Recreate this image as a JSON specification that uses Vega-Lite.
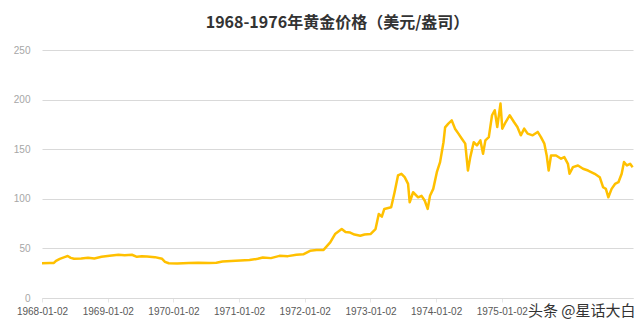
{
  "$schema": "https://vega.github.io/schema/vega-lite/v6.json",
  "width": 640,
  "height": 329,
  "autosize": {"type": "fit", "contains": "padding"},
  "padding": {"left": 13, "top": 15, "right": 6, "bottom": 11},
  "background": "white",
  "title": {
    "text": "1968-1976年黄金价格（美元/盎司）",
    "font": "Noto Sans CJK SC",
    "fontSize": 16,
    "fontWeight": "bold",
    "color": "#333333",
    "anchor": "middle",
    "offset": 14
  },
  "data": {
    "values": [
      {"date": "1968-01-02", "price": 35.0},
      {"date": "1968-02-15", "price": 35.2},
      {"date": "1968-03-08", "price": 35.3},
      {"date": "1968-03-20", "price": 37.5},
      {"date": "1968-04-10", "price": 39.5},
      {"date": "1968-05-10", "price": 41.5},
      {"date": "1968-05-24", "price": 42.3},
      {"date": "1968-06-10", "price": 40.5},
      {"date": "1968-06-28", "price": 39.5},
      {"date": "1968-08-07", "price": 39.8},
      {"date": "1968-09-14", "price": 40.5},
      {"date": "1968-10-19", "price": 39.8},
      {"date": "1968-11-28", "price": 41.5},
      {"date": "1969-01-12", "price": 42.5},
      {"date": "1969-03-02", "price": 43.5},
      {"date": "1969-04-06", "price": 43.2},
      {"date": "1969-05-16", "price": 43.6},
      {"date": "1969-06-13", "price": 41.5},
      {"date": "1969-07-10", "price": 42.0},
      {"date": "1969-08-08", "price": 41.8},
      {"date": "1969-09-21", "price": 41.2},
      {"date": "1969-10-31", "price": 39.5},
      {"date": "1969-11-16", "price": 36.5},
      {"date": "1969-12-07", "price": 35.0},
      {"date": "1970-01-23", "price": 34.8},
      {"date": "1970-03-29", "price": 35.2},
      {"date": "1970-05-20", "price": 35.5},
      {"date": "1970-07-19", "price": 35.3},
      {"date": "1970-08-29", "price": 35.6},
      {"date": "1970-10-02", "price": 36.8},
      {"date": "1970-12-14", "price": 37.5},
      {"date": "1971-03-01", "price": 38.2},
      {"date": "1971-04-16", "price": 39.5},
      {"date": "1971-05-14", "price": 40.8},
      {"date": "1971-06-28", "price": 40.2},
      {"date": "1971-08-15", "price": 42.5},
      {"date": "1971-10-01", "price": 42.2},
      {"date": "1971-11-17", "price": 43.5},
      {"date": "1971-12-25", "price": 44.0},
      {"date": "1972-02-01", "price": 47.6},
      {"date": "1972-03-08", "price": 48.3},
      {"date": "1972-04-16", "price": 48.5},
      {"date": "1972-05-23", "price": 56.0},
      {"date": "1972-06-19", "price": 64.5},
      {"date": "1972-07-26", "price": 69.5},
      {"date": "1972-08-16", "price": 66.5},
      {"date": "1972-09-11", "price": 66.0},
      {"date": "1972-10-05", "price": 64.0},
      {"date": "1972-11-06", "price": 62.8},
      {"date": "1972-11-30", "price": 64.0},
      {"date": "1973-01-02", "price": 64.5},
      {"date": "1973-01-30", "price": 69.5},
      {"date": "1973-02-17", "price": 84.7},
      {"date": "1973-03-06", "price": 82.0},
      {"date": "1973-03-20", "price": 89.8},
      {"date": "1973-04-27", "price": 91.4},
      {"date": "1973-05-16", "price": 106.6},
      {"date": "1973-06-04", "price": 123.5},
      {"date": "1973-06-23", "price": 125.2},
      {"date": "1973-07-11", "price": 121.8},
      {"date": "1973-07-30", "price": 115.0},
      {"date": "1973-08-08", "price": 96.5},
      {"date": "1973-08-27", "price": 106.6},
      {"date": "1973-09-24", "price": 101.5},
      {"date": "1973-10-13", "price": 103.0},
      {"date": "1973-10-31", "price": 98.0},
      {"date": "1973-11-16", "price": 89.8},
      {"date": "1973-11-29", "price": 103.0},
      {"date": "1973-12-17", "price": 110.0},
      {"date": "1974-01-06", "price": 126.8},
      {"date": "1974-01-24", "price": 137.0},
      {"date": "1974-02-12", "price": 157.0},
      {"date": "1974-02-21", "price": 172.0},
      {"date": "1974-03-11", "price": 175.8},
      {"date": "1974-03-30", "price": 179.0},
      {"date": "1974-04-17", "price": 170.7},
      {"date": "1974-05-06", "price": 165.7},
      {"date": "1974-05-25", "price": 160.6},
      {"date": "1974-06-13", "price": 155.6},
      {"date": "1974-06-28", "price": 128.5},
      {"date": "1974-07-11", "price": 142.0},
      {"date": "1974-07-30", "price": 157.0},
      {"date": "1974-08-17", "price": 153.8},
      {"date": "1974-09-05", "price": 158.9},
      {"date": "1974-09-20", "price": 145.5},
      {"date": "1974-10-03", "price": 158.9},
      {"date": "1974-10-22", "price": 162.2},
      {"date": "1974-11-09", "price": 184.2},
      {"date": "1974-11-24", "price": 189.3},
      {"date": "1974-12-08", "price": 172.4},
      {"date": "1974-12-26", "price": 196.0},
      {"date": "1975-01-05", "price": 170.7},
      {"date": "1975-01-24", "price": 177.4},
      {"date": "1975-02-15", "price": 184.2},
      {"date": "1975-03-11", "price": 177.4},
      {"date": "1975-03-30", "price": 172.4},
      {"date": "1975-04-18", "price": 164.0},
      {"date": "1975-05-07", "price": 170.7},
      {"date": "1975-05-26", "price": 165.7},
      {"date": "1975-06-23", "price": 164.0},
      {"date": "1975-07-21", "price": 167.4},
      {"date": "1975-08-08", "price": 162.2},
      {"date": "1975-08-27", "price": 155.6},
      {"date": "1975-09-09", "price": 143.7},
      {"date": "1975-09-20", "price": 128.5},
      {"date": "1975-10-03", "price": 143.7},
      {"date": "1975-10-31", "price": 143.7},
      {"date": "1975-11-28", "price": 140.4},
      {"date": "1975-12-16", "price": 142.0},
      {"date": "1976-01-05", "price": 135.3},
      {"date": "1976-01-14", "price": 125.2},
      {"date": "1976-02-02", "price": 131.9},
      {"date": "1976-03-01", "price": 133.6},
      {"date": "1976-03-29", "price": 130.3},
      {"date": "1976-04-26", "price": 128.5},
      {"date": "1976-06-02", "price": 125.2},
      {"date": "1976-06-30", "price": 121.8},
      {"date": "1976-07-19", "price": 111.6},
      {"date": "1976-08-03", "price": 110.0},
      {"date": "1976-08-17", "price": 101.5},
      {"date": "1976-09-04", "price": 110.0},
      {"date": "1976-09-23", "price": 115.0},
      {"date": "1976-10-12", "price": 116.7},
      {"date": "1976-10-30", "price": 125.2},
      {"date": "1976-11-12", "price": 137.0},
      {"date": "1976-11-28", "price": 133.6},
      {"date": "1976-12-16", "price": 135.3},
      {"date": "1976-12-30", "price": 131.9}
    ]
  },
  "mark": {"type": "line", "color": "#FFC000", "strokeWidth": 2.5, "strokeJoin": "round"},
  "encoding": {
    "x": {
      "field": "date",
      "type": "temporal",
      "scale": {
        "type": "utc",
        "domain": [
          {"year": 1968, "month": 1, "date": 2, "utc": true},
          {"year": 1977, "month": 1, "date": 1, "utc": true}
        ]
      },
      "axis": {
        "values": [
          {"year": 1968, "month": 1, "date": 2, "utc": true},
          {"year": 1969, "month": 1, "date": 2, "utc": true},
          {"year": 1970, "month": 1, "date": 2, "utc": true},
          {"year": 1971, "month": 1, "date": 2, "utc": true},
          {"year": 1972, "month": 1, "date": 2, "utc": true},
          {"year": 1973, "month": 1, "date": 2, "utc": true},
          {"year": 1974, "month": 1, "date": 2, "utc": true},
          {"year": 1975, "month": 1, "date": 2, "utc": true}
        ],
        "labelExpr": "utcFormat(datum.value, '%Y-%m-%d')",
        "labelFont": "Liberation Sans",
        "labelFontSize": 10,
        "labelColor": "#595959",
        "labelPadding": 4,
        "labelOverlap": false,
        "labelFlush": false,
        "grid": false,
        "domainColor": "#d9d9d9",
        "tickColor": "#e6e6e6",
        "tickSize": 4,
        "title": "头条 @星话大白",
        "titleFont": "Noto Sans CJK SC",
        "titleFontSize": 15,
        "titleFontWeight": "normal",
        "titleColor": "#333333",
        "titleAnchor": "end",
        "titleAlign": "right",
        "titleBaseline": "middle",
        "titleX": 593,
        "titleY": 12
      }
    },
    "y": {
      "field": "price",
      "type": "quantitative",
      "scale": {"domain": [0, 250], "nice": false},
      "axis": {
        "values": [0, 50, 100, 150, 200, 250],
        "title": null,
        "labelFont": "Liberation Sans",
        "labelFontSize": 10,
        "labelColor": "#a6a6a6",
        "labelPadding": 12,
        "domain": false,
        "ticks": false,
        "gridColor": "#d9d9d9",
        "gridWidth": 1
      }
    }
  },
  "config": {"view": {"stroke": null}}
}
